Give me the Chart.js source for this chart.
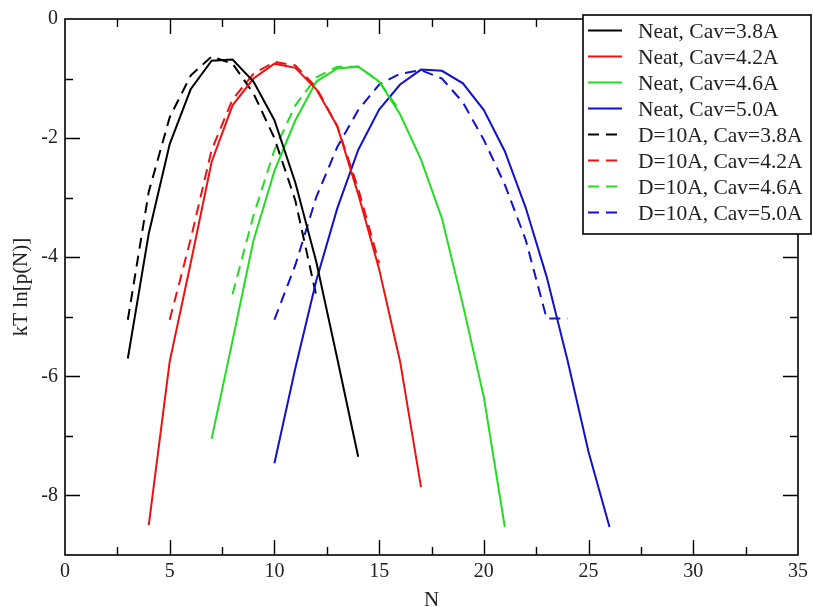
<!DOCTYPE html>
<html>
<head>
<meta charset="utf-8">
<script src="https://cdn.jsdelivr.net/npm/chart.js@4.4.1/dist/chart.umd.min.js"></script>
<style>
  html, body { margin: 0; padding: 0; background: #ffffff; }
  #wrap { width: 813px; height: 607px; position: relative; }
</style>
</head>
<body>
<div id="wrap"><canvas id="c" width="813" height="607"></canvas></div>
<script>
// ---- data ----
const seriesLabels = [
  "Neat, Cav=3.8A", "Neat, Cav=4.2A", "Neat, Cav=4.6A", "Neat, Cav=5.0A",
  "D=10A, Cav=3.8A", "D=10A, Cav=4.2A", "D=10A, Cav=4.6A", "D=10A, Cav=5.0A"
];

const nNeat38 = [3, 4, 5, 6, 7, 8, 9, 10, 11, 12, 13, 14];
const yNeat38 = [-5.70, -3.60, -2.10, -1.18, -0.70, -0.68, -1.05, -1.70, -2.75, -4.08, -5.70, -7.35];

const nNeat42 = [4, 5, 6, 7, 8, 9, 10, 11, 12, 13, 14, 15, 16, 17];
const yNeat42 = [-8.50, -5.75, -4.10, -2.40, -1.45, -1.00, -0.75, -0.82, -1.18, -1.80, -2.94, -4.20, -5.75, -7.86];

const nNeat46 = [7, 8, 9, 10, 11, 12, 13, 14, 15, 16, 17, 18, 19, 20, 21];
const yNeat46 = [-7.05, -5.40, -3.72, -2.55, -1.70, -1.05, -0.83, -0.80, -1.05, -1.60, -2.36, -3.35, -4.80, -6.35, -8.53];

const nNeat50 = [10, 11, 12, 13, 14, 15, 16, 17, 18, 19, 20, 21, 22, 23, 24, 25, 26];
const yNeat50 = [-7.46, -5.86, -4.39, -3.18, -2.20, -1.52, -1.10, -0.85, -0.87, -1.08, -1.53, -2.22, -3.17, -4.33, -5.74, -7.27, -8.53];

const nD38 = [3, 4, 5, 6, 7, 8, 9, 10, 11, 12];
const yD38 = [-5.05, -2.90, -1.65, -0.95, -0.63, -0.75, -1.25, -2.00, -3.05, -4.65];

const nD42 = [5, 6, 7, 8, 9, 10, 11, 12, 13, 14, 15];
const yD42 = [-5.05, -3.70, -2.20, -1.35, -0.92, -0.72, -0.78, -1.15, -1.80, -2.85, -4.10];

const nD46 = [8, 9, 10, 11, 12, 13, 14, 15, 16];
const yD46 = [-4.62, -3.30, -2.20, -1.45, -0.98, -0.80, -0.80, -1.05, -1.55];

const nD50 = [10, 11, 12, 13, 14, 15, 16, 17, 18, 19, 20, 21, 22, 23, 24];
const yD50 = [-5.05, -4.13, -2.99, -2.15, -1.53, -1.10, -0.92, -0.86, -1.00, -1.40, -2.03, -2.78, -3.71, -5.03, -5.03];

const xTickValues = [0, 5, 10, 15, 20, 25, 30, 35];
const yTickValues = [-8, -6, -4, -2, 0];
const xMinorTicks = [2.5, 7.5, 12.5, 17.5, 22.5, 27.5, 32.5];
const yMinorTicks = [-7, -5, -3, -1];

// ---- styles ----
const colors = ["#000000", "#ee1111", "#22dd22", "#1111cc", "#000000", "#ee1111", "#22dd22", "#1111cc"];
const dashPattern = [11, 7];
const FONT = "'Liberation Serif', 'DejaVu Serif', serif";

function toPoints(xs, ys) { return xs.map((x, i) => ({ x: x, y: ys[i] })); }

const seriesX = [nNeat38, nNeat42, nNeat46, nNeat50, nD38, nD42, nD46, nD50];
const seriesY = [yNeat38, yNeat42, yNeat46, yNeat50, yD38, yD42, yD46, yD50];

const datasets = seriesLabels.map((lab, i) => ({
  label: lab,
  data: toPoints(seriesX[i], seriesY[i]),
  borderColor: colors[i],
  backgroundColor: colors[i],
  borderWidth: 2,
  borderDash: i >= 4 ? dashPattern : [],
  pointRadius: 0,
  showLine: true,
  tension: 0,
  fill: false
}));

// frame + inward ticks (xmgrace style)
const framePlugin = {
  id: 'frame',
  afterDatasetsDraw(chart) {
    const ctx = chart.ctx;
    const xs = chart.scales.x, ys = chart.scales.y;
    const L = xs.left, R = xs.right, T = ys.top, B = ys.bottom;
    ctx.save();
    ctx.strokeStyle = '#000';
    ctx.lineWidth = 1.6;
    ctx.setLineDash([]);
    ctx.strokeRect(L, T, R - L, B - T);
    ctx.lineWidth = 1.4;
    ctx.beginPath();
    const major = 15, minor = 8;
    xTickValues.concat(xMinorTicks).forEach(v => {
      const len = xTickValues.includes(v) ? major : minor;
      const px = Math.round(xs.getPixelForValue(v)) + 0.5;
      if (px <= L + 1 || px >= R - 1) return;
      ctx.moveTo(px, B); ctx.lineTo(px, B - len);
      ctx.moveTo(px, T); ctx.lineTo(px, T + len);
    });
    yTickValues.concat(yMinorTicks).forEach(v => {
      const len = yTickValues.includes(v) ? major : minor;
      const py = Math.round(ys.getPixelForValue(v)) + 0.5;
      if (py <= T + 1 || py >= B - 1) return;
      ctx.moveTo(L, py); ctx.lineTo(L + len, py);
      ctx.moveTo(R, py); ctx.lineTo(R - len, py);
    });
    ctx.stroke();
    ctx.restore();
  }
};

// legend box drawn from the datasets
const legendPlugin = {
  id: 'boxLegend',
  afterDraw(chart) {
    const ctx = chart.ctx;
    const bx = 583, by = 15, bw = 228, bh = 219;
    ctx.save();
    ctx.fillStyle = '#fff';
    ctx.fillRect(bx, by, bw, bh);
    ctx.strokeStyle = '#000';
    ctx.lineWidth = 1.6;
    ctx.strokeRect(bx, by, bw, bh);
    ctx.font = "21.5px " + FONT;
    ctx.textBaseline = 'alphabetic';
    ctx.textAlign = 'left';
    chart.data.datasets.forEach((ds, i) => {
      const cy = 30.5 + i * 26;
      ctx.strokeStyle = ds.borderColor;
      ctx.lineWidth = 2;
      ctx.setLineDash(ds.borderDash || []);
      ctx.beginPath();
      ctx.moveTo(588, cy);
      ctx.lineTo(622, cy);
      ctx.stroke();
      ctx.setLineDash([]);
      ctx.fillStyle = '#222';
      ctx.fillText(ds.label, 638, cy + 7);
    });
    ctx.restore();
  }
};

new Chart(document.getElementById('c'), {
  type: 'scatter',
  data: { datasets: datasets },
  options: {
    responsive: false,
    animation: false,
    devicePixelRatio: 1,
    layout: { padding: { left: 0, right: 15, top: 15, bottom: 0 } },
    plugins: {
      legend: { display: false },
      tooltip: { enabled: false },
      title: { display: false }
    },
    scales: {
      x: {
        type: 'linear',
        min: 0, max: 35,
        afterBuildTicks: s => { s.ticks = xTickValues.map(v => ({ value: v })); },
        afterFit: s => { s.height = 52; },
        grid: { display: false, drawTicks: false },
        border: { display: false },
        ticks: { color: '#222', font: { family: FONT, size: 20 }, padding: 5, maxRotation: 0, autoSkip: false },
        title: { display: true, text: 'N', color: '#222', font: { family: FONT, size: 21 }, padding: { top: 0, bottom: -6 } }
      },
      y: {
        type: 'linear',
        min: -9, max: 0,
        afterBuildTicks: s => { s.ticks = yTickValues.map(v => ({ value: v })); },
        afterFit: s => { s.width = 65; },
        grid: { display: false, drawTicks: false },
        border: { display: false },
        ticks: { color: '#222', font: { family: FONT, size: 20 }, padding: 7, autoSkip: false },
        title: { display: true, text: 'kT ln[p(N)]', color: '#222', font: { family: FONT, size: 21 }, padding: { top: 9, bottom: 0 } }
      }
    }
  },
  plugins: [framePlugin, legendPlugin]
});
</script>
</body>
</html>
